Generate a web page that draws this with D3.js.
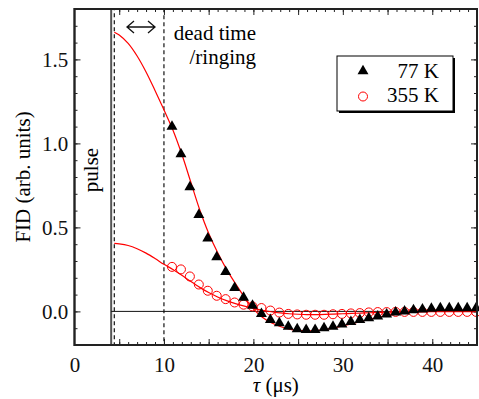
<!DOCTYPE html>
<html>
<head>
<meta charset="utf-8">
<script src="https://cdn.jsdelivr.net/npm/d3@7"></script>
<style>
  body { margin: 0; background: #fff; }
  svg text { font-family: "Liberation Serif", "Times New Roman", serif; }
</style>
</head>
<body>
<svg id="fid-chart" width="479" height="399"></svg>
<script>
// measured points (tau in us)
var tauData = [10.9, 11.9, 12.9, 13.9, 14.9, 15.9, 16.9, 17.9, 18.9, 19.9, 20.9, 21.9,
    22.9, 23.9, 24.9, 25.9, 26.9, 27.9, 28.9, 29.9, 30.9, 31.9, 32.9, 33.9, 34.9,
    35.9, 36.9, 37.9, 38.9, 39.9, 40.9, 41.9, 42.9, 43.9, 44.9];
var fid77 = [1.10, 0.936, 0.74, 0.575, 0.435, 0.323, 0.235, 0.141, 0.082, 0.035, -0.015, -0.05,
    -0.07, -0.09, -0.105, -0.11, -0.11, -0.10, -0.09, -0.077, -0.062, -0.05, -0.04, -0.03, -0.017,
    -0.005, 0.0, 0.008, 0.012, 0.017, 0.02, 0.02, 0.02, 0.02, 0.02];
var fid355 = [0.265, 0.25, 0.208, 0.16, 0.123, 0.093, 0.073, 0.053, 0.04, 0.03, 0.02, 0.005,
    -0.007, -0.015, -0.018, -0.02, -0.02, -0.02, -0.017, -0.015, -0.012, -0.01, -0.006, -0.004, -0.004,
    -0.003, -0.003, -0.003, -0.003, -0.003, -0.003, -0.003, -0.003, -0.003, -0.003];

// fit curves
var tauFit = [4.45, 5, 6, 7, 8, 9, 10, 11, 12, 13, 14, 15, 16, 17, 18, 19, 20, 21, 22, 23, 24,
    25, 26, 27, 28, 29, 30, 31, 32, 33, 34, 35, 36, 37, 38, 39, 40, 41, 42, 43, 44, 45];
var fit77 = [1.662, 1.645, 1.595, 1.52, 1.425, 1.315, 1.2, 1.08, 0.935, 0.77, 0.605, 0.465,
    0.35, 0.25, 0.165, 0.085, 0.015, -0.035, -0.068, -0.09, -0.105, -0.113, -0.116, -0.114,
    -0.108, -0.098, -0.086, -0.073, -0.06, -0.047, -0.034, -0.024, -0.016, -0.01, -0.005,
    -0.002, 0, 0.001, 0.001, 0.001, 0.001, 0.001];
var fit355 = [0.405, 0.402, 0.392, 0.373, 0.347, 0.315, 0.28, 0.25, 0.215, 0.178, 0.143, 0.112,
    0.086, 0.064, 0.046, 0.031, 0.018, 0.007, -0.002, -0.009, -0.014, -0.017, -0.019, -0.019,
    -0.018, -0.016, -0.014, -0.012, -0.01, -0.008, -0.006, -0.005, -0.004, -0.003, -0.002,
    -0.002, -0.001, -0.001, -0.001, -0.001, -0.001, -0.001];

var xLabels = [0, 10, 20, 30, 40];
var yLabels = [0, 0.5, 1.0, 1.5];
var legendLabels = ["77 K", "355 K"];

// pulse and dead time windows (us)
var pulseEnd = 4.1;
var deadStart = 4.45, deadEnd = 10;

var svg = d3.select("#fid-chart");

var plotLeft = 74.5, plotRight = 477, plotTop = 9, plotBottom = 345;
var fontFamily = "'Liberation Serif', 'Times New Roman', serif";
var fontSize = 21;

var x = d3.scaleLinear().domain([0, 45]).range([plotLeft, plotRight]);
var y = d3.scaleLinear().domain([-0.2, 1.8]).range([plotBottom, plotTop]);

// ticks, all pointing inward
function addAxis(axis, tx, ty) {
    var g = svg.append("g")
        .attr("transform", "translate(" + tx + "," + ty + ")")
        .call(axis)
        .attr("font-family", fontFamily)
        .attr("font-size", fontSize);
    g.select(".domain").remove();
    g.selectAll(".tick line").attr("stroke", "#222");
    g.selectAll(".tick text").attr("fill", "#111");
    return g;
}

var minorX = d3.range(1, 46, 1), majorX = d3.range(0, 46, 5);
var minorY = d3.range(-0.2, 1.81, 0.1), majorY = [0, 0.5, 1.0, 1.5];

addAxis(d3.axisBottom(x).tickValues(minorX).tickSize(-3).tickFormat(""), 0, plotBottom);
addAxis(d3.axisBottom(x).tickValues(majorX).tickSize(-6).tickPadding(12)
    .tickFormat(function(d) { return xLabels.indexOf(d) >= 0 ? d : ""; }), 0, plotBottom);
addAxis(d3.axisTop(x).tickValues(minorX).tickSize(-3).tickFormat(""), 0, plotTop);
addAxis(d3.axisTop(x).tickValues(majorX).tickSize(-6).tickFormat(""), 0, plotTop);

// pulse box covers top / bottom ticks
svg.append("rect")
    .attr("x", x(0)).attr("y", plotTop)
    .attr("width", x(pulseEnd) - x(0)).attr("height", plotBottom - plotTop)
    .attr("fill", "#fff").attr("stroke", "#555").attr("stroke-width", 2);

svg.append("text")
    .attr("transform", "translate(" + (x(pulseEnd / 2) + 5.5) + "," + 170 + ")rotate(-90)")
    .attr("text-anchor", "middle")
    .style("font-size", fontSize + "px")
    .text("pulse");

addAxis(d3.axisLeft(y).tickValues(minorY).tickSize(-3).tickFormat(""), plotLeft, 0);
addAxis(d3.axisLeft(y).tickValues(yLabels).tickSize(-6).tickPadding(6.3)
    .tickFormat(d3.format(".1f")), plotLeft, 0);
addAxis(d3.axisRight(y).tickValues(minorY).tickSize(-3).tickFormat(""), plotRight, 0);
addAxis(d3.axisRight(y).tickValues(majorY).tickSize(-6).tickFormat(""), plotRight, 0);

// zero line
svg.append("line")
    .attr("x1", x(pulseEnd)).attr("x2", plotRight)
    .attr("y1", y(0)).attr("y2", y(0))
    .attr("stroke", "#111").attr("stroke-width", 1);

// dead time box
svg.append("rect")
    .attr("x", x(deadStart)).attr("y", plotTop)
    .attr("width", x(deadEnd) - x(deadStart)).attr("height", plotBottom - plotTop)
    .attr("fill", "none").attr("stroke", "#111")
    .attr("stroke-width", 1.2).attr("stroke-dasharray", "4,3");

// double arrow over dead time
var ay = 27, ax1 = 127, ax2 = 155;
svg.append("path")
    .attr("d", "M" + ax1 + "," + ay + "H" + ax2 +
        "M" + (ax1 + 7) + "," + (ay - 6) + "L" + ax1 + "," + ay + "L" + (ax1 + 7) + "," + (ay + 6) +
        "M" + (ax2 - 7) + "," + (ay - 6) + "L" + ax2 + "," + ay + "L" + (ax2 - 7) + "," + (ay + 6))
    .attr("fill", "none").attr("stroke", "#111").attr("stroke-width", 1.3);

svg.append("text").attr("x", 256).attr("y", 39.5)
    .attr("text-anchor", "end").style("font-size", fontSize + "px").text("dead time");
svg.append("text").attr("x", 256).attr("y", 63.5)
    .attr("text-anchor", "end").style("font-size", fontSize + "px").text("/ringing");

// fit lines
var line = d3.line().curve(d3.curveCatmullRom);
[fit77, fit355].forEach(function(fit) {
    svg.append("path")
        .attr("d", line(tauFit.map(function(t, i) { return [x(t), y(fit[i])]; })))
        .attr("fill", "none").attr("stroke", "red").attr("stroke-width", 1.2);
});

// markers
var tri = d3.symbol().type(d3.symbolTriangle).size(52);
svg.append("g").selectAll("circle")
    .data(fid355)
    .enter().append("circle")
    .attr("cx", function(d, i) { return x(tauData[i]); })
    .attr("cy", function(d) { return y(d); })
    .attr("r", 4.5)
    .attr("fill", "none").attr("stroke", "red").attr("stroke-width", 1);

svg.append("g").selectAll("path")
    .data(fid77)
    .enter().append("path")
    .attr("d", tri)
    .attr("transform", function(d, i) { return "translate(" + x(tauData[i]) + "," + y(d) + ")"; })
    .attr("fill", "#000");

// frame
svg.append("rect")
    .attr("x", plotLeft).attr("y", plotTop)
    .attr("width", plotRight - plotLeft).attr("height", plotBottom - plotTop)
    .attr("fill", "none").attr("stroke", "#222").attr("stroke-width", 2);

// legend
var lg = svg.append("g").attr("transform", "translate(337,56)");
lg.append("rect").attr("x", 2).attr("y", 2).attr("width", 116).attr("height", 55).attr("fill", "#000");
lg.append("rect").attr("width", 116).attr("height", 55)
    .attr("fill", "#fff").attr("stroke", "#000").attr("stroke-width", 1);
lg.append("path").attr("d", tri).attr("transform", "translate(26,15)").attr("fill", "#000");
lg.append("circle").attr("cx", 26).attr("cy", 40.5).attr("r", 4.5)
    .attr("fill", "none").attr("stroke", "red").attr("stroke-width", 1);
lg.selectAll("text.lab")
    .data(legendLabels)
    .enter().append("text")
    .attr("class", "lab")
    .attr("x", 102)
    .attr("y", function(d, i) { return 22 + i * 24; })
    .attr("text-anchor", "end")
    .style("font-size", fontSize + "px")
    .text(function(d) { return d; });

// axis titles
svg.append("text")
    .attr("transform", "translate(30," + ((plotTop + plotBottom) / 2) + ")rotate(-90)")
    .attr("text-anchor", "middle")
    .style("font-size", fontSize + "px")
    .text("FID (arb. units)");

var xt = svg.append("text")
    .attr("x", (plotLeft + plotRight) / 2).attr("y", 392)
    .attr("text-anchor", "middle")
    .style("font-size", fontSize + "px");
xt.append("tspan").style("font-style", "italic").text("τ");
xt.append("tspan").text(" (μs)");
</script>
</body>
</html>
